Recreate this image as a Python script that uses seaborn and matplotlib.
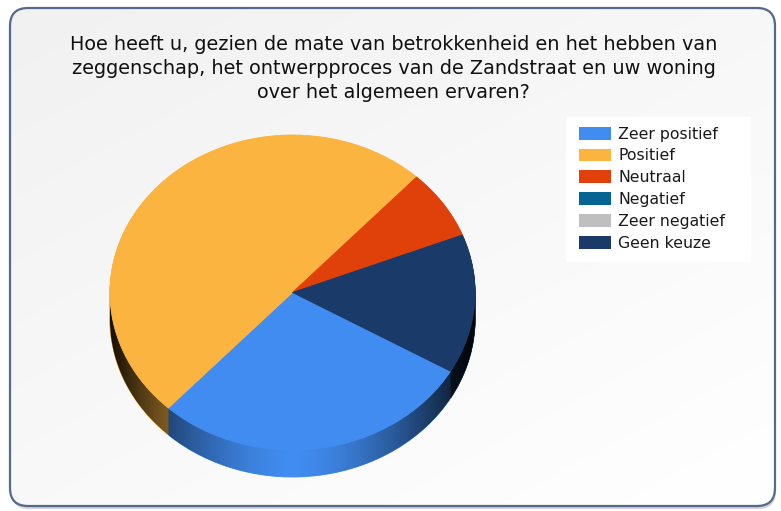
import numpy as np
import matplotlib
matplotlib.use("Agg")
import matplotlib.pyplot as plt
import seaborn as sns
from matplotlib.patches import FancyBboxPatch, PathPatch, Rectangle
from matplotlib.path import Path
from matplotlib.colors import LinearSegmentedColormap

# ---- data ----
categories = ["Zeer positief", "Positief", "Neutraal", "Negatief", "Zeer negatief", "Geen keuze"]
counts = [4, 7, 1, 0, 0, 2]
colors = ["#418CF0", "#FCB441", "#E0400A", "#056492", "#BFBFBF", "#1A3B69"]
title = ("Hoe heeft u, gezien de mate van betrokkenheid en het hebben van\n"
         "zeggenschap, het ontwerpproces van de Zandstraat en uw woning\n"
         "over het algemeen ervaren?")

sns.set_theme(style="white")
plt.rcParams['font.family'] = ['DejaVu Sans']
palette = sns.color_palette(colors)

W, H = 781, 511
fig = plt.figure(figsize=(W / 100, H / 100), dpi=100)
fig.patch.set_facecolor('white')

# ---- background panel ----
bg = fig.add_axes([0, 0, 1, 1])
bg.set_xlim(0, W)
bg.set_ylim(H, 0)
bg.axis('off')
shadow = FancyBboxPatch((11, 10), 765, 499, boxstyle="round,pad=0,rounding_size=18",
                        fc="#d2d2d2", ec="none", zorder=0.5)
bg.add_patch(shadow)
panel = FancyBboxPatch((10, 8), 765, 498, boxstyle="round,pad=0,rounding_size=18",
                       fc="#f6f6f6", ec="none", zorder=0.6)
bg.add_patch(panel)
gx, gy = np.meshgrid(np.linspace(0, 1, 200), np.linspace(0, 1, 200))
G = np.clip(0.6 * gy + 0.5 * gx, 0, 1)
cmap_bg = LinearSegmentedColormap.from_list("bg", ["#f1f1f1", "#fefefe"])
im = bg.imshow(G, extent=(10, 775, 506, 8), cmap=cmap_bg, aspect='auto', zorder=0.7,
               vmin=0, vmax=1)
im.set_clip_path(panel)
border = FancyBboxPatch((10, 8), 765, 498, boxstyle="round,pad=0,rounding_size=18",
                        fc="none", ec="#55698a", lw=1.6, zorder=3)
bg.add_patch(border)
bg.text(393.5, 68.5, title, ha='center', va='center', fontsize=13.9,
        color='#111111', linespacing=1.33, zorder=4)

# legend background box
bg.add_patch(Rectangle((566, 117), 185, 145, fc='white', ec='none', zorder=2))

# ---- 3D pie ----
cx, cy = 292.5, 292.5
sx, sy = 182.5, 157.5
depth = 27 / sy
xr = (-1.05, 1.05)
yr = (-1.30, 1.05)
left_px = cx + xr[0] * sx
top_px = cy - yr[1] * sy
w_px = (xr[1] - xr[0]) * sx
h_px = (yr[1] - yr[0]) * sy
ax = fig.add_axes([left_px / W, 1 - (top_px + h_px) / H, w_px / W, h_px / H])
ax.patch.set_alpha(0)
start = -30

def style(wedges, z):
    for w, v in zip(wedges, counts):
        w.set_zorder(z)
        if v == 0:
            w.set_linewidth(0)
        else:
            w.set_edgecolor(w.get_facecolor())
            w.set_linewidth(0.6)

for off in np.linspace(depth, 0.004, 40):
    wl, _ = ax.pie(counts, colors=palette, startangle=start, counterclock=False,
                   center=(0, -off), radius=1, normalize=True)
    style(wl, 1)

# side shading
t = np.linspace(np.pi, 2 * np.pi, 200)
bot = np.column_stack([np.cos(t), np.sin(t) - depth])
topa = np.column_stack([np.cos(t[::-1]), np.sin(t[::-1])])
verts = np.vstack([bot, topa, bot[:1]])
codes = [Path.MOVETO] + [Path.LINETO] * (len(verts) - 2) + [Path.CLOSEPOLY]
band = PathPatch(Path(verts, codes), transform=ax.transData, fc='none', ec='none')
ax.add_patch(band)
xs = np.linspace(-1, 1, 400)
shade = np.clip(0.92 * np.abs(xs) ** 1.6, 0, 1)
rgba = np.zeros((2, 400, 4))
rgba[..., 3] = shade
sim = ax.imshow(rgba, extent=(-1, 1, -1 - depth - 0.02, 0.02), aspect='auto', zorder=1.5)
sim.set_clip_path(band)

wedges, _ = ax.pie(counts, colors=palette, startangle=start, counterclock=False,
                   center=(0, 0), radius=1, normalize=True)
style(wedges, 2)

ax.set_aspect('auto')
ax.set_xlim(*xr)
ax.set_ylim(*yr)
ax.axis('off')

# ---- legend ----
fs = 11.3
leg = fig.legend(wedges, categories, loc='upper left',
                 bbox_to_anchor=(579 / W, 1 - 126.5 / H), borderaxespad=0,
                 frameon=False, fontsize=fs, handlelength=32 / (fs * 100 / 72),
                 handleheight=14 / (fs * 100 / 72),
                 handletextpad=0.45, labelspacing=0.44, borderpad=0)
leg.set_zorder(5)
for txt in leg.get_texts():
    txt.set_color('#1a1a1a')
for h in leg.legend_handles:
    h.set_linewidth(0)

fig.savefig("out.png", dpi=100, facecolor='white')
